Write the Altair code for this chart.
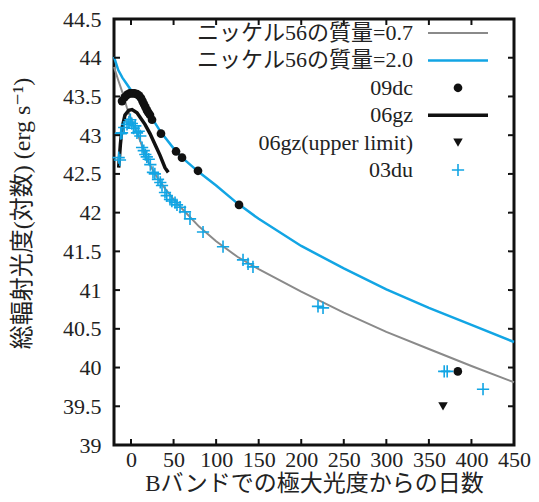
import altair as alt
import pandas as pd

# ---- data ----
gray_x = [-20, -15, -10, -5, 0, 5, 10, 15, 20, 25, 30, 40, 50, 60, 80, 100, 125, 150, 200, 250, 300, 350, 400, 450]
gray_y = [43.88, 43.71, 43.55, 43.36, 43.21, 43.08, 42.95, 42.80, 42.66, 42.56, 42.47, 42.31, 42.17, 42.05,
          41.82, 41.63, 41.43, 41.27, 40.98, 40.71, 40.46, 40.24, 40.02, 39.81]

blue_x = [-20, -15, -10, -5, 0, 10, 20, 35, 50, 60, 80, 100, 125, 150, 200, 250, 300, 350, 400, 450]
blue_y = [44.01, 43.84, 43.74, 43.66, 43.58, 43.45, 43.30, 43.04, 42.83, 42.71, 42.52, 42.35, 42.12, 41.92,
          41.57, 41.28, 41.01, 40.77, 40.55, 40.33]

dc_x = [-10.6, -7.5, -4.7, -1.5, 1.2, 4, 7.0, 9.5, 11.7, 13.5, 15.3, 17, 18.8, 20.5, 22.3, 24.7,
        35.2, 52.9, 59.9, 78.7, 126.9, 384]
dc_y = [43.44, 43.49, 43.52, 43.54, 43.54, 43.54, 43.53, 43.51, 43.48, 43.44, 43.40, 43.36, 43.32, 43.29,
        43.26, 43.20, 43.02, 42.79, 42.71, 42.54, 42.10, 39.95]

gz_x = [-14.5, -12.5, -10.6, -7.1, -2.7, 1.2, 7.0, 16.4, 22.3, 28.2, 34.1, 39.9, 43.8]
gz_y = [42.58, 42.88, 43.09, 43.26, 43.32, 43.33, 43.29, 43.14, 43.02, 42.88, 42.74, 42.58, 42.52]

ul_x = [366.6]
ul_y = [39.5]

du_x = [-14.5, -13, -12, -10.6, -8, -4.7, -2.5, -0.8, 1, 3.1, 5, 7, 9, 10.9, 13, 15, 16.8, 18.5, 20.8,
        22.7, 25.8, 28, 31.7, 34.4, 36.4, 39.9, 42, 45.8, 48, 51.7, 54, 57.6, 63.4, 69.3, 84.6, 108.1,
        131.6, 137.5, 143.3, 219.7, 225.6, 368, 371.5, 413.6]
du_y = [42.71, 42.68, 43.02, 43.03, 43.10, 43.14, 43.17, 43.20, 43.15, 43.09, 43.12, 43.03, 43.05, 42.99,
        42.84, 42.80, 42.75, 42.72, 42.69, 42.62, 42.52, 42.50, 42.43, 42.39, 42.35, 42.26, 42.22, 42.17,
        42.15, 42.13, 42.10, 42.07, 42.01, 41.92, 41.75, 41.56, 41.39, 41.34, 41.30, 40.79, 40.77, 39.95,
        39.95, 39.72]

x_ticks = [0, 50, 100, 150, 200, 250, 300, 350, 400, 450]
y_ticks = [39, 39.5, 40, 40.5, 41, 41.5, 42, 42.5, 43, 43.5, 44, 44.5]

legend_labels = ["ニッケル56の質量=0.7", "ニッケル56の質量=2.0", "09dc", "06gz",
                 "06gz(upper limit)", "03du"]

x_title = "Bバンドでの極大光度からの日数"
y_title = "総輻射光度(対数) (erg s⁻¹)"

# ---- styling ----
FONT = "'Liberation Serif', 'Times New Roman', 'DejaVu Serif', 'Noto Sans CJK JP', serif"
GRAY = "#8a8a8a"
BLUE = "#12a5e4"
W, H = 400, 426
PLUS = "M-1,0L1,0M0,-1L0,1"

xs = alt.Scale(domain=[-20, 450], nice=False, zero=False)
ys = alt.Scale(domain=[39, 44.5], nice=False, zero=False)


def df(xv, yv):
    return pd.DataFrame({"x": xv, "y": yv})


x_axis = alt.Axis(values=x_ticks, ticks=False, domain=False, grid=False, labelPadding=4,
                  labelOverlap=False, labelFlush=False,
                  labelFontSize=22, labelFont=FONT, labelColor="#222", title=x_title,
                  titleFont=FONT, titleFontSize=23, titleFontWeight="normal", titleColor="#222",
                  titleY=38, titleBaseline="middle")
y_axis = alt.Axis(values=y_ticks, ticks=False, domain=False, grid=False, labelPadding=13,
                  labelOverlap=False, labelFlush=False,
                  labelFontSize=22, labelFont=FONT, labelColor="#222", format="~g",
                  title=y_title, titleFont=FONT, titleFontSize=24, titleFontWeight="normal",
                  titleColor="#222", titleX=-92, titleY=194, titleAngle=-90, titleBaseline="middle",
                  titleAlign="center")

X = alt.X("x:Q", scale=xs, axis=x_axis)
Y = alt.Y("y:Q", scale=ys, axis=y_axis)

gray = alt.Chart(df(gray_x, gray_y)).mark_line(color=GRAY, strokeWidth=2).encode(x=X, y=Y)
blue = alt.Chart(df(blue_x, blue_y)).mark_line(color=BLUE, strokeWidth=2.5).encode(x=X, y=Y)
dc = alt.Chart(df(dc_x, dc_y)).mark_point(shape="circle", filled=True, color="#111", size=75,
                                           opacity=1).encode(x=X, y=Y)
gz = alt.Chart(df(gz_x, gz_y)).mark_line(color="#111", strokeWidth=3.5).encode(x=X, y=Y)
ul = alt.Chart(df(ul_x, ul_y)).mark_point(shape="triangle-down", filled=True, color="#111", size=90,
                                           opacity=1).encode(x=X, y=Y)
du = alt.Chart(df(du_x, du_y)).mark_point(shape=PLUS, filled=False, color=BLUE, size=150,
                                           strokeWidth=1.6, opacity=1).encode(x=X, y=Y)

# inward ticks on all four sides
ytk = pd.DataFrame({"y": y_ticks})
xtk = pd.DataFrame({"x": x_ticks})
tick_layers = [
    alt.Chart(ytk).mark_rule(color="#111", strokeWidth=2).encode(
        y=Y, x=alt.value(0), x2=alt.value(6)),
    alt.Chart(ytk).mark_rule(color="#111", strokeWidth=2).encode(
        y=Y, x=alt.value(W - 6), x2=alt.value(W)),
    alt.Chart(xtk).mark_rule(color="#111", strokeWidth=2).encode(
        x=X, y=alt.value(H - 6), y2=alt.value(H)),
    alt.Chart(xtk).mark_rule(color="#111", strokeWidth=2).encode(
        x=X, y=alt.value(0), y2=alt.value(6)),
]

# gnuplot-style legend: label right-aligned, sample on the right
one = pd.DataFrame({"a": [0]})
leg_layers = []
TX, SX0, SX1 = 299, 314, 374
for i, lab in enumerate(legend_labels):
    ly = 14 + 27.4 * i
    leg_layers.append(
        alt.Chart(pd.DataFrame({"t": [lab]})).mark_text(
            align="right", baseline="middle", fontSize=22, font=FONT, color="#222").encode(
            text="t:N", x=alt.value(TX), y=alt.value(ly)))
    sx = (SX0 + SX1) / 2
    if i == 0:
        m = alt.Chart(one).mark_rule(color=GRAY, strokeWidth=2).encode(
            x=alt.value(SX0), x2=alt.value(SX1), y=alt.value(ly))
    elif i == 1:
        m = alt.Chart(one).mark_rule(color=BLUE, strokeWidth=2.5).encode(
            x=alt.value(SX0), x2=alt.value(SX1), y=alt.value(ly))
    elif i == 2:
        m = alt.Chart(one).mark_point(shape="circle", filled=True, color="#111", size=75,
                                      opacity=1).encode(x=alt.value(sx), y=alt.value(ly))
    elif i == 3:
        m = alt.Chart(one).mark_rule(color="#111", strokeWidth=3.5).encode(
            x=alt.value(SX0), x2=alt.value(SX1), y=alt.value(ly))
    elif i == 4:
        m = alt.Chart(one).mark_point(shape="triangle-down", filled=True, color="#111", size=90,
                                      opacity=1).encode(x=alt.value(sx), y=alt.value(ly))
    else:
        m = alt.Chart(one).mark_point(shape=PLUS, filled=False, color=BLUE, size=150,
                                      strokeWidth=1.6, opacity=1).encode(
            x=alt.value(sx), y=alt.value(ly))
    leg_layers.append(m)

chart = alt.layer(gray, blue, dc, gz, ul, du, *tick_layers, *leg_layers).properties(
    width=W, height=H,
    autosize=alt.AutoSizeParams(type="none"),
    padding={"left": 106, "top": 11, "right": 17, "bottom": 49},
    background="white",
).configure_view(stroke="#111", strokeWidth=3)

chart.save("out.html", embed_options={"renderer": "svg", "actions": False})
